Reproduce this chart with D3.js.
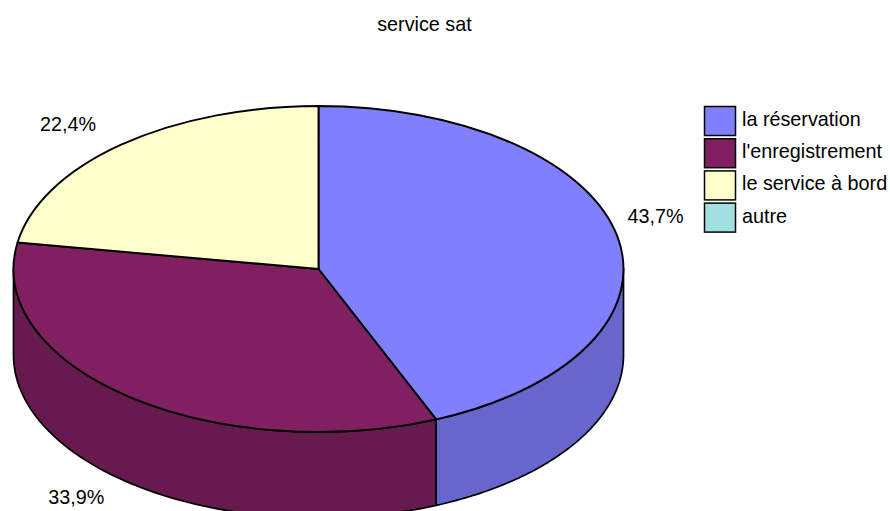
<!DOCTYPE html>
<html><head><meta charset="utf-8">
<script src="https://cdn.jsdelivr.net/npm/d3@7"></script>
<style>body{margin:0;background:#fff}svg{display:block}text{font-family:"Liberation Sans",Arial,sans-serif;fill:#000}</style>
</head><body>
<svg id="c" width="890" height="511"></svg>
<script>
const title = "service sat";
const categories = ["la réservation", "l'enregistrement", "le service à bord", "autre"];
const values = [43.7, 33.9, 22.4, 0];
const labels = ["43,7%", "33,9%", "22,4%", ""];
const topColors = ["#8080FF", "#802060", "#FFFFCC", "#A0E0E0"];
const sideColors = ["#6666CC", "#661A4D", "#CCCCA3", "#80B3B3"];

const W = 890, H = 511;
const cx = 318.5, cy = 269, rx = 305, ry = 163, depth = 86;
const svg = d3.select("#c");
const fs = 19.8;

svg.append("text").attr("x", 424.5).attr("y", 31).attr("text-anchor", "middle")
  .attr("font-size", fs).text(title);

const pie = d3.pie().sort(null).value(d => d).startAngle(0).endAngle(2 * Math.PI);
const arcs = pie(values);
const pt = (a, dy = 0) => [cx + rx * Math.sin(a), cy - ry * Math.cos(a) + dy];

// sides (front-visible half: PI/2 .. 3PI/2)
const sideG = svg.append("g");
const line = d3.line();
arcs.forEach((d, i) => {
  if (d.endAngle - d.startAngle <= 0) return;
  const a0 = Math.max(d.startAngle, Math.PI / 2), a1 = Math.min(d.endAngle, 3 * Math.PI / 2);
  if (a1 <= a0) return;
  const n = 80;
  const topPts = d3.range(n + 1).map(k => pt(a0 + (a1 - a0) * k / n));
  const botPts = d3.range(n + 1).map(k => pt(a1 - (a1 - a0) * k / n, depth));
  sideG.append("path").attr("d", line(topPts.concat(botPts)) + "Z")
    .attr("fill", sideColors[i]).attr("stroke", "#000").attr("stroke-width", 1.7)
    .attr("stroke-linejoin", "round");
});

// top slices
const arcGen = d3.arc().innerRadius(0).outerRadius(rx);
const topG = svg.append("g").attr("transform", `translate(${cx},${cy}) scale(1,${ry / rx})`);
arcs.forEach((d, i) => {
  if (d.endAngle - d.startAngle <= 0) return;
  topG.append("path").attr("d", arcGen(d)).attr("fill", topColors[i])
    .attr("stroke", "#000").attr("stroke-width", 1.9).attr("vector-effect", "non-scaling-stroke")
    .attr("stroke-linejoin", "round");
});

// labels
arcs.forEach((d, i) => {
  if (!labels[i]) return;
  const m = (d.startAngle + d.endAngle) / 2;
  const s = Math.sin(m), c = Math.cos(m);
  const p = pt(m, c < 0 ? depth : 0);
  const right = s > 0;
  const x = p[0] + (right ? 10 : -25);
  const y = p[1] + (c < 0 ? 21 : -14);
  svg.append("text").attr("x", x).attr("y", y).attr("font-size", fs)
    .attr("text-anchor", right ? "start" : "end").text(labels[i]);
});

// legend
const lg = svg.append("g");
categories.forEach((name, i) => {
  const y0 = 106.5 + i * 32.2;
  lg.append("rect").attr("x", 704.5).attr("y", y0).attr("width", 31).attr("height", 29)
    .attr("fill", topColors[i]).attr("stroke", "#000").attr("stroke-width", 1.5);
  lg.append("text").attr("x", 742).attr("y", y0 + 19.5).attr("font-size", fs).text(name);
});
</script>
</body></html>
